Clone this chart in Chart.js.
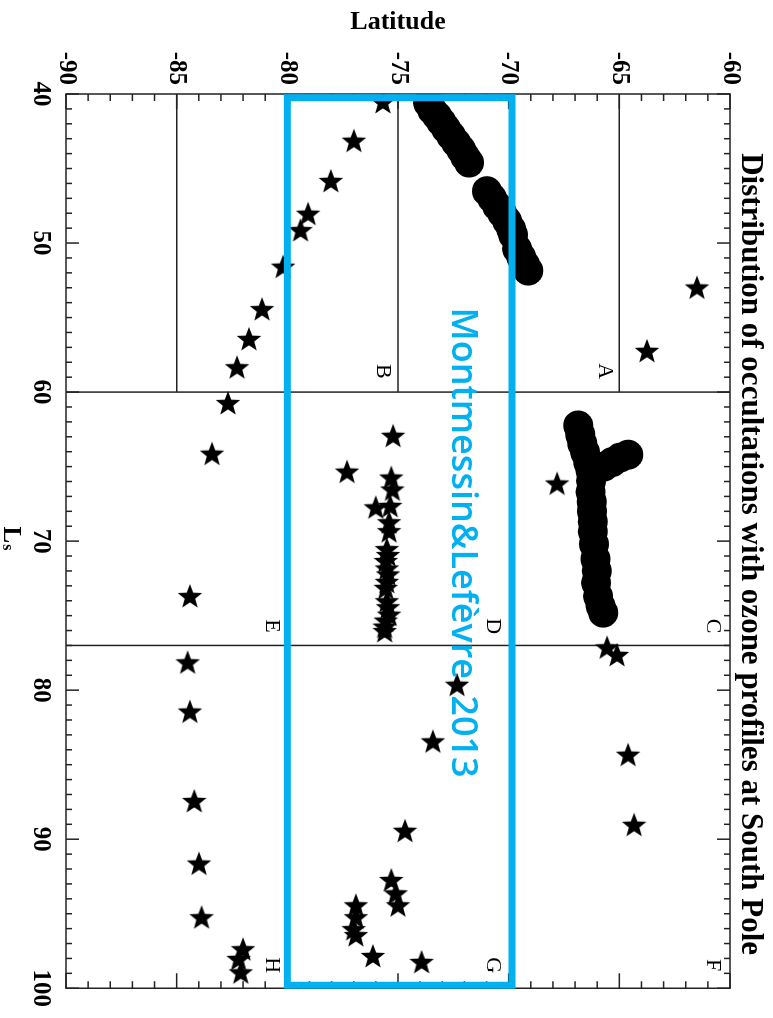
<!DOCTYPE html>
<html><head><meta charset="utf-8">
<script src="https://cdn.jsdelivr.net/npm/chart.js@4/dist/chart.umd.min.js"></script>
<style>
html,body{margin:0;padding:0;background:#fff;overflow:hidden;width:773px;height:1018px}
#wrap{position:absolute;left:0;top:0;width:1018px;height:773px;transform-origin:0 0;transform:translate(773px,0) rotate(90deg)}
canvas{display:block}
</style></head><body>
<div id="wrap"><canvas id="c" width="1018" height="773"></canvas></div>
<script>
// ---- data ----
const lsTicks = [40, 50, 60, 70, 80, 90, 100];
const latTicks = [-90, -85, -80, -75, -70, -65, -60];

// big dots (Ls, latitude)
const circleLs  = [40.6, 41.07, 41.46, 41.86, 42.33, 42.8, 43.26, 43.73, 44.2, 44.6,
                   46.52, 46.99, 47.52, 47.99, 48.52, 49.05, 49.45, 50.39, 50.92, 51.45, 51.85,
                   62.24, 62.84, 63.44, 64.03, 64.7, 65.3, 65.96, 66.7, 67.36, 68.0, 68.7, 69.36, 70.2,
                   71.2, 72.0, 72.8, 73.7, 74.35, 74.8,
                   64.2, 64.4, 64.7, 65.0];
const circleLat = [-73.64, -73.46, -73.24, -73.05, -72.83, -72.6, -72.38, -72.15, -71.97, -71.79,
                   -70.98, -70.75, -70.52, -70.3, -70.07, -69.89, -69.8, -69.62, -69.44, -69.26, -69.12,
                   -66.86, -66.77, -66.68, -66.55, -66.41, -66.3, -66.28, -66.3, -66.25, -66.24, -66.2, -66.2, -66.15,
                   -66.08, -66.02, -66.05, -65.96, -65.85, -65.73,
                   -64.6, -64.97, -65.33, -65.7];

// stars (Ls, latitude)
const starLs  = [40.6, 43.2, 45.9, 48.1, 49.2, 51.65, 54.5, 56.5, 58.4, 53.05, 57.3,
                 60.8, 64.2, 66.2, 63.0, 65.4, 65.8, 66.6, 67.8, 67.7, 68.8, 69.4, 70.6, 71.0, 71.4,
                 71.9, 72.3, 72.8, 73.2, 74.1, 74.5, 75.0, 75.4, 75.8, 76.1, 73.75,
                 77.2, 77.7, 79.7, 83.5, 84.4, 89.1, 89.5, 78.2, 81.5, 87.5, 91.7, 95.3,
                 97.45, 98.1, 99.0, 94.5, 95.3, 96.1, 96.5, 92.8, 93.7, 94.5, 97.9, 98.3];
const starLat = [-75.68, -76.99, -78.03, -79.06, -79.4, -80.19, -81.14, -81.73, -82.27, -61.49, -63.75,
                 -82.68, -83.4, -67.81, -75.22, -77.3, -75.3, -75.25, -76.0, -75.35, -75.4, -75.4, -75.5, -75.45, -75.55,
                 -75.5, -75.45, -75.5, -75.55, -75.5, -75.45, -75.4, -75.55, -75.6, -75.6, -84.4,
                 -65.55, -65.1, -72.33, -73.42, -64.6, -64.33, -74.68, -84.5, -84.4, -84.2, -83.99, -83.87,
                 -82.0, -82.2, -82.1, -76.9, -76.9, -77.0, -76.9, -75.3, -75.1, -75.0, -76.13, -73.93];

// region letters
const regionNames = ['A', 'B', 'C', 'D', 'E', 'F', 'G', 'H'];
const regionLs  = [58.6, 58.6, 75.7, 75.7, 75.7, 98.45, 98.45, 98.45];
const regionLat = [-65.64, -75.7, -60.8, -70.7, -80.7, -60.8, -70.7, -80.7];

// divider lines
const dividerLs = [60, 77];
const topLatLines = [-65, -75, -85];

const titleText = 'Distribution of occultations with ozone profiles at South Pole';
const noteText = 'Montmessin&Lefèvre 2013';
const noteBoxLs = [40.25, 99.8];
const noteBoxLat = [-80, -69.85];

// ---- star point image ----
function makeStar(R, r) {
  const s = Math.ceil(R * 2 + 4);
  const cv = document.createElement('canvas');
  cv.width = s; cv.height = s;
  const g = cv.getContext('2d');
  const c = s / 2;
  g.beginPath();
  for (let i = 0; i < 10; i++) {
    const a = Math.PI + i * Math.PI / 5;
    const rr = i % 2 === 0 ? R : r;
    const px = c + rr * Math.cos(a), py = c + rr * Math.sin(a);
    if (i === 0) g.moveTo(px, py); else g.lineTo(px, py);
  }
  g.closePath();
  g.fillStyle = '#000';
  g.fill();
  return cv;
}
const starImg = makeStar(13, 5.4);

const SERIF = '"Liberation Serif", "Times New Roman", serif';
const BLUE = '#00B0F0';

const deco = {
  id: 'deco',
  beforeDatasetsDraw(chart) {
    const { ctx, chartArea: a, scales: { x, y } } = chart;
    const line = (x1, y1, x2, y2) => { ctx.beginPath(); ctx.moveTo(x1, y1); ctx.lineTo(x2, y2); ctx.stroke(); };
    ctx.save();
    ctx.strokeStyle = '#222';
    ctx.lineWidth = 1.5;
    dividerLs.forEach(v => { const px = x.getPixelForValue(v); line(px, a.top, px, a.bottom); });
    topLatLines.forEach(v => { const py = y.getPixelForValue(v); line(x.getPixelForValue(40), py, x.getPixelForValue(60), py); });
    ctx.strokeRect(a.left, a.top, a.right - a.left, a.bottom - a.top);
    for (let v = 40; v <= 100; v++) {
      const px = x.getPixelForValue(v); const L = v % 10 === 0 ? 13 : 6;
      line(px, a.bottom, px, a.bottom - L); line(px, a.top, px, a.top + L);
    }
    for (let v = -90; v <= -60; v++) {
      const py = y.getPixelForValue(v); const L = v % 5 === 0 ? 15 : 7;
      line(a.left, py, a.left + L, py); line(a.right, py, a.right - L, py);
    }
    // region letters
    ctx.fillStyle = '#000';
    ctx.font = '22px ' + SERIF;
    ctx.textAlign = 'center'; ctx.textBaseline = 'middle';
    regionNames.forEach((n, i) => ctx.fillText(n, x.getPixelForValue(regionLs[i]), y.getPixelForValue(regionLat[i])));
    // title
    ctx.font = 'bold 31px ' + SERIF;
    ctx.textAlign = 'center'; ctx.textBaseline = 'alphabetic';
    ctx.fillText(titleText, (a.left + a.right) / 2 + 13, a.top - 12);
    // Ls axis title
    const cx = (a.left + a.right) / 2;
    ctx.font = 'bold 25px ' + SERIF;
    ctx.textAlign = 'right';
    ctx.fillText('L', cx + 2, a.bottom + 62);
    ctx.font = 'bold 16px ' + SERIF;
    ctx.textAlign = 'left';
    ctx.fillText('s', cx + 3, a.bottom + 63);
    ctx.restore();
  },
  afterDatasetsDraw(chart) {
    const { ctx, scales: { x, y } } = chart;
    ctx.save();
    ctx.strokeStyle = BLUE;
    ctx.lineWidth = 7;
    const x1 = x.getPixelForValue(noteBoxLs[0]), x2 = x.getPixelForValue(noteBoxLs[1]);
    const y1 = y.getPixelForValue(noteBoxLat[1]), y2 = y.getPixelForValue(noteBoxLat[0]);
    ctx.strokeRect(x1, y1, x2 - x1, y2 - y1);
    ctx.fillStyle = BLUE;
    ctx.font = '600 36px "Open Sans", sans-serif';
    if ('wordSpacing' in ctx) ctx.wordSpacing = '7px';
    ctx.textAlign = 'center'; ctx.textBaseline = 'middle';
    ctx.fillText(noteText, x.getPixelForValue(70.1), y.getPixelForValue(-72.1));
    ctx.restore();
  }
};

new Chart(document.getElementById('c'), {
  type: 'scatter',
  data: {
    datasets: [
      {
        label: 'ozone profiles (dots)',
        data: circleLs.map((v, i) => ({ x: v, y: circleLat[i] })),
        pointStyle: 'circle', pointRadius: 15, pointHoverRadius: 15,
        backgroundColor: '#000', borderColor: '#000', borderWidth: 0
      },
      {
        label: 'occultations (stars)',
        data: starLs.map((v, i) => ({ x: v, y: starLat[i] })),
        pointStyle: starImg, pointRadius: 13, pointHoverRadius: 13,
        backgroundColor: '#000', borderColor: '#000'
      }
    ]
  },
  options: {
    responsive: false,
    animation: false,
    devicePixelRatio: 1,
    events: [],
    layout: { padding: { top: 43, right: 23, left: 0, bottom: 0 } },
    plugins: { legend: { display: false }, tooltip: { enabled: false }, title: { display: false } },
    scales: {
      x: {
        type: 'linear', position: 'bottom', min: 40, max: 100,
        afterBuildTicks: s => { s.ticks = lsTicks.map(v => ({ value: v })); },
        afterFit: s => { s.height = 66; },
        ticks: { font: { family: SERIF, size: 25, weight: 'bold' }, color: '#000', padding: 11, maxRotation: 0, minRotation: 0 },
        grid: { display: false, drawTicks: false },
        border: { display: false }
      },
      y: {
        type: 'linear', position: 'left', min: -90, max: -60,
        afterBuildTicks: s => { s.ticks = latTicks.map(v => ({ value: v })); },
        afterFit: s => { s.width = 94; },
        ticks: { font: { family: SERIF, size: 25, weight: 'bold' }, color: '#000', padding: 9 },
        grid: { display: false, drawTicks: false },
        border: { display: false },
        title: { display: true, text: 'Latitude', color: '#000', font: { family: SERIF, size: 26, weight: 'bold' }, padding: { top: 7, bottom: 0 } }
      }
    }
  },
  plugins: [deco]
});
</script>
</body></html>
